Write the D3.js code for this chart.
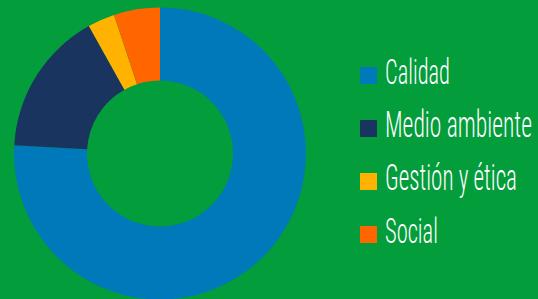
<!DOCTYPE html>
<html>
<head>
<meta charset="utf-8">
<script src="https://cdn.jsdelivr.net/npm/d3@7"></script>
<style>
  html, body { margin: 0; padding: 0; background: #039d3c; }
  svg { display: block; }
</style>
</head>
<body>
<script>
// categories, values and colours
const categories = ["Calidad", "Medio ambiente", "Gestión y ética", "Social"];
const values = [75.9, 16.0, 3.0, 5.1];
const colors = ["#0079ba", "#19355f", "#ffb300", "#ff6600"];
const labelWidths = [65, 147, 132, 53];

const width = 538,
      height = 299,
      cx = 160,
      cy = 153.5,
      outerR = 146,
      innerR = 73;

const svg = d3.select("body").append("svg").attr("width", width).attr("height", height);
svg.append("rect").attr("width", width).attr("height", height).attr("fill", "#039d3c");

const color = d3.scaleOrdinal().domain(categories).range(colors);

const pie = d3.pie().sort(null).value(d => d.value);
const arc = d3.arc().innerRadius(innerR).outerRadius(outerR);
const data = categories.map((c, i) => ({ name: c, value: values[i] }));

svg.append("g").attr("transform", `translate(${cx}, ${cy})`)
    .selectAll("path").data(pie(data)).enter().append("path")
    .attr("d", arc)
    .attr("fill", d => color(d.data.name));

// legend
const y = d3.scalePoint().domain(categories).range([84, 243]);
const legend = svg.selectAll(".legend").data(categories).enter().append("g")
    .attr("class", "legend")
    .attr("transform", d => `translate(360, ${y(d)})`);
legend.append("rect").attr("x", 0).attr("y", -17).attr("width", 17).attr("height", 17)
    .attr("fill", d => color(d));
legend.append("text").attr("x", 0).attr("y", 0)
    .attr("fill", "#ffffff")
    .attr("font-family", "'Roboto Condensed', Roboto, sans-serif")
    .attr("font-weight", 300)
    .attr("font-size", "36px")
    .text(d => d)
    .attr("transform", function(d, i) {
        // squeeze the text horizontally to the condensed width of the original
        const w = this.getComputedTextLength();
        return `translate(25, 0) scale(${labelWidths[i] / w}, 1)`;
    });
</script>
</body>
</html>
